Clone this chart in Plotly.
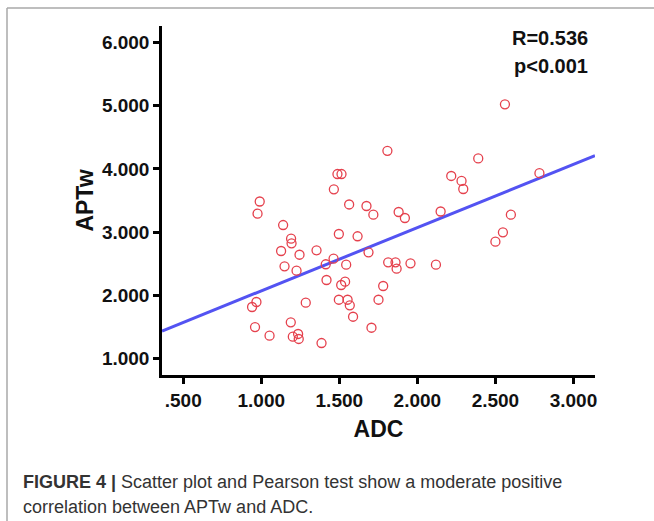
import plotly.graph_objects as go

# ---- data ----
adc = [0.990, 0.976, 1.140, 1.465, 1.488, 1.514, 1.563, 1.674, 1.718, 1.880,
       1.920, 1.808, 1.497, 1.617, 1.191, 1.194, 1.127, 1.245, 1.354, 1.687,
       1.149, 1.226, 1.413, 1.463, 1.544, 1.813, 1.860, 1.867, 1.956, 2.119,
       1.418, 1.537, 1.512, 1.781, 0.969, 0.941, 1.285, 1.497, 1.553, 1.567,
       1.751, 1.588, 0.960, 1.189, 1.053, 1.202, 1.236, 1.240, 1.386, 1.706,
       2.561, 2.390, 2.217, 2.283, 2.294, 2.782, 2.149, 2.599, 2.548, 2.500]
aptw = [3.484, 3.291, 3.112, 3.677, 3.919, 3.919, 3.437, 3.413, 3.275, 3.318,
        3.223, 4.286, 2.970, 2.934, 2.896, 2.823, 2.701, 2.642, 2.712, 2.680,
        2.459, 2.389, 2.491, 2.579, 2.484, 2.522, 2.522, 2.421, 2.506, 2.484,
        2.242, 2.215, 2.163, 2.147, 1.894, 1.815, 1.883, 1.930, 1.930, 1.842,
        1.930, 1.661, 1.498, 1.573, 1.361, 1.345, 1.388, 1.309, 1.245, 1.487,
        5.022, 4.165, 3.888, 3.809, 3.682, 3.932, 3.326, 3.275, 2.997, 2.848]

fit_intercept = 1.071
fit_slope = 1.0

x_ticks = [0.5, 1.0, 1.5, 2.0, 2.5, 3.0]
x_tick_labels = [".500", "1.000", "1.500", "2.000", "2.500", "3.000"]
y_ticks = [1, 2, 3, 4, 5, 6]
y_tick_labels = ["1.000", "2.000", "3.000", "4.000", "5.000", "6.000"]

x_range = [0.364, 3.138]
y_range = [0.739, 6.261]

stat_lines = ["R=0.536", "p<0.001"]
x_title = "ADC"
y_title = "APTw"
caption_bold = "FIGURE 4 |"
caption_rest = " Scatter plot and Pearson test show a moderate positive"
caption_line2 = "correlation between APTw and ADC."

# ---- figure ----
W, H = 654, 521
ml, mr, mt, mb = 162, 59, 26, 146
pw, ph = W - ml - mr, H - mt - mb


def px(xp):
    return (xp - ml) / pw


def py(yp):
    return (H - mb - yp) / ph


fit_x = x_range
fit_y = [fit_intercept + fit_slope * v for v in fit_x]

fig = go.Figure()
fig.add_trace(go.Scatter(
    x=fit_x, y=fit_y, mode="lines",
    line=dict(color="#5353f2", width=3), hoverinfo="skip", showlegend=False,
    cliponaxis=True))
fig.add_trace(go.Scatter(
    x=adc, y=aptw, mode="markers",
    marker=dict(symbol="circle-open", size=9, color="#e5414d",
                line=dict(width=1.3, color="#e5414d")),
    showlegend=False))

font_fam = "Liberation Sans, Arial, sans-serif"

fig.update_xaxes(
    range=x_range, tickvals=x_ticks,
    ticktext=["<b>%s</b>" % t for t in x_tick_labels],
    showgrid=False, zeroline=False, showline=True, linecolor="black",
    linewidth=2.5, ticks="outside", ticklen=6, tickwidth=2.5, tickcolor="black",
    tickfont=dict(family=font_fam, size=19, color="#111"),
    title=dict(text="<b>%s</b>" % x_title,
               font=dict(family=font_fam, size=23, color="#111"), standoff=12))
fig.update_yaxes(
    range=y_range, tickvals=y_ticks,
    ticktext=["<b>%s</b>" % t for t in y_tick_labels],
    showgrid=False, zeroline=False, showline=True, linecolor="black",
    linewidth=2.5, ticks="outside", ticklen=6, tickwidth=2.5, tickcolor="black",
    tickfont=dict(family=font_fam, size=19, color="#111"),
    title=dict(text="<b>%s</b>" % y_title,
               font=dict(family=font_fam, size=23, color="#111"), standoff=2))

annotations = [
    dict(text="<b>%s</b>" % stat_lines[0], x=px(590), y=py(37.5), xref="paper",
         yref="paper", xanchor="right", yanchor="middle", showarrow=False,
         font=dict(family=font_fam, size=20, color="#111")),
    dict(text="<b>%s</b>" % stat_lines[1], x=px(590), y=py(66), xref="paper",
         yref="paper", xanchor="right", yanchor="middle", showarrow=False,
         font=dict(family=font_fam, size=20, color="#111")),
    dict(text="<b>%s</b>%s" % (caption_bold, caption_rest), x=px(21), y=py(482),
         xref="paper", yref="paper", xanchor="left", yanchor="middle",
         showarrow=False, font=dict(family=font_fam, size=18, color="#333")),
    dict(text=caption_line2, x=px(21), y=py(507),
         xref="paper", yref="paper", xanchor="left", yanchor="middle",
         showarrow=False, font=dict(family=font_fam, size=18, color="#333")),
]

shapes = [
    dict(type="line", xref="paper", yref="paper", x0=px(7), x1=px(W + 5),
         y0=py(8), y1=py(8), line=dict(color="#a8a8a8", width=1.5)),
    dict(type="line", xref="paper", yref="paper", x0=px(7), x1=px(7),
         y0=py(8), y1=py(H + 5), line=dict(color="#a8a8a8", width=1.5)),
]

fig.update_layout(
    width=W, height=H, margin=dict(l=ml, r=mr, t=mt, b=mb, autoexpand=False),
    paper_bgcolor="white", plot_bgcolor="white",
    annotations=annotations, shapes=shapes, showlegend=False)

fig.write_html("out.html")
